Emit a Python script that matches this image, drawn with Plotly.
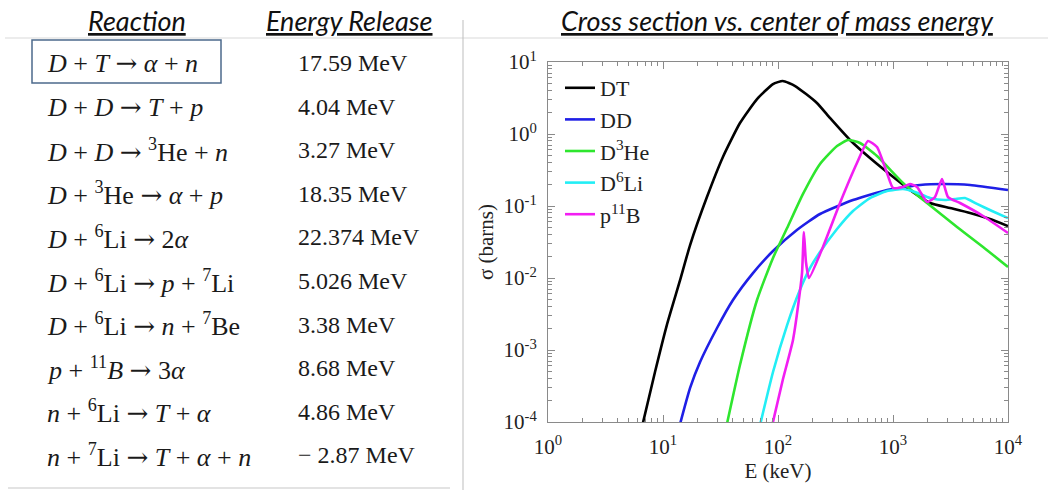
import plotly.graph_objects as go

# ------------------------------------------------------------------ data
ARROW = "<span style='font-family:DejaVu Serif'>→</span>"
reactions = [
    "<i>D</i> + <i>T</i> {a} <i>α</i> + <i>n</i>",
    "<i>D</i> + <i>D</i> {a} <i>T</i> + <i>p</i>",
    "<i>D</i> + <i>D</i> {a} <sup>3</sup>He + <i>n</i>",
    "<i>D</i> + <sup>3</sup>He {a} <i>α</i> + <i>p</i>",
    "<i>D</i> + <sup>6</sup>Li {a} 2<i>α</i>",
    "<i>D</i> + <sup>6</sup>Li {a} <i>p</i> + <sup>7</sup>Li",
    "<i>D</i> + <sup>6</sup>Li {a} <i>n</i> + <sup>7</sup>Be",
    "<i>p</i> + <sup>11</sup><i>B</i> {a} 3<i>α</i>",
    "<i>n</i> + <sup>6</sup>Li {a} <i>T</i> + <i>α</i>",
    "<i>n</i> + <sup>7</sup>Li {a} <i>T</i> + <i>α</i> + <i>n</i>",
]
energy_release = [
    "17.59 MeV", "4.04 MeV", "3.27 MeV", "18.35 MeV", "22.374 MeV",
    "5.026 MeV", "3.38 MeV", "8.68 MeV", "4.86 MeV", "− 2.87 MeV",
]

# cross sections, E in keV, sigma in barns
dt_E = [6.5, 8.52, 10.8, 14.1, 17.2, 24.1, 33.2, 46.7, 65.7, 90.5, 110, 141, 218, 283,
        423, 631, 1084, 1493, 2099, 3133, 4677, 6970, 10000]
dt_sigma = [8.0e-5, 4.95e-4, 2.22e-3, 9.4e-3, 0.0287, 0.133, 0.48, 1.42, 3.06, 4.94, 5.45,
            4.64, 2.70, 1.67, 0.826, 0.464, 0.230, 0.156, 0.110, 0.0938, 0.080, 0.0659, 0.0527]

dd_E = [13.7, 17.2, 21.0, 29.5, 40.6, 60.6, 90.5, 146, 232, 449, 887, 1718, 2723, 4677, 10000]
dd_sigma = [8.0e-5, 2.97e-4, 6.8e-4, 2.02e-3, 4.95e-3, 0.0117, 0.0237, 0.0464, 0.0774,
            0.121, 0.167, 0.196, 0.202, 0.196, 0.167]

dhe3_E = [35.2, 46.7, 65.7, 90.5, 120, 165, 232, 326, 406, 517, 726, 1222, 1976, 3604,
          6067, 10000]
dhe3_sigma = [8.0e-5, 6.19e-4, 4.95e-3, 0.019, 0.0494, 0.147, 0.383, 0.681, 0.826, 0.750,
              0.495, 0.209, 0.110, 0.0511, 0.0270, 0.0142]

dli6_E = [68.5, 90.5, 120, 155, 190, 232, 326, 449, 631, 887, 1222, 1553, 2099, 2833,
          3459, 4227, 5375, 7261, 10000]
dli6_sigma = [8.0e-5, 4.95e-4, 2.22e-3, 6.8e-3, 0.0138, 0.023, 0.048, 0.0853, 0.129,
              0.161, 0.172, 0.156, 0.129, 0.121, 0.125, 0.129, 0.107, 0.0853, 0.068]

pb11_E = [87.5, 110, 135, 155, 162, 168, 175, 186, 246, 346, 486, 606, 726, 887, 1000,
          1222, 1406, 1618, 1976, 2317, 2667, 3008, 3828, 6067, 10000]
pb11_sigma = [8.0e-5, 3.83e-4, 1.38e-3, 6.4e-3, 0.0121, 0.0436, 0.0167, 0.010, 0.027,
              0.110, 0.395, 0.80, 0.659, 0.287, 0.178, 0.184, 0.202, 0.184, 0.114, 0.133,
              0.237, 0.133, 0.110, 0.0726, 0.0422]

x_tick_vals = [1, 10, 100, 1000, 10000]
x_tick_text = ["10<sup>0</sup>", "10<sup>1</sup>", "10<sup>2</sup>", "10<sup>3</sup>", "10<sup>4</sup>"]
y_tick_vals = [1e-4, 1e-3, 1e-2, 1e-1, 1, 10]
y_tick_text = ["10<sup>-4</sup>", "10<sup>-3</sup>", "10<sup>-2</sup>", "10<sup>-1</sup>",
               "10<sup>0</sup>", "10<sup>1</sup>"]

# minor tick positions (2..9 within each decade)
x_minor_vals = [m * 10.0 ** k for k in range(0, 4) for m in range(2, 10)]
y_minor_vals = [m * 10.0 ** k for k in range(-4, 1) for m in range(2, 10)]

# ------------------------------------------------------------------ layout helpers
W, H = 1048, 490


def px(x):
    return x / W


def py(y):
    return 1 - y / H


SERIF = "Liberation Serif, Times New Roman, serif"
SANS = "Lato, Open Sans, sans-serif"
AXIS_GREY = "#8a8a8a"

fig = go.Figure()

series = [
    ("DT", dt_E, dt_sigma, "#000000"),
    ("DD", dd_E, dd_sigma, "#1f1fe6"),
    ("D<sup>3</sup>He", dhe3_E, dhe3_sigma, "#2ee62e"),
    ("D<sup>6</sup>Li", dli6_E, dli6_sigma, "#22eef5"),
    ("p<sup>11</sup>B", pb11_E, pb11_sigma, "#f21ef2"),
]
for name, e, s, c in series:
    fig.add_trace(go.Scatter(
        x=e, y=s, mode="lines", name=name,
        line=dict(color=c, width=2.6, shape="spline", smoothing=0.5),
    ))

axis_common = dict(
    type="log", automargin=False,
    showline=True, linecolor=AXIS_GREY, linewidth=1, mirror="ticks",
    ticks="inside", ticklen=7, tickcolor=AXIS_GREY,
    showgrid=False, zeroline=False,
    tickfont=dict(family=SERIF, size=21, color="#222"),
    ticklabelstandoff=6,
)

fig.update_layout(
    width=W, height=H,
    margin=dict(l=0, r=0, t=0, b=0, autoexpand=False),
    paper_bgcolor="white", plot_bgcolor="white",
    xaxis=dict(
        **axis_common,
        domain=[px(548), px(1008)],
        range=[0, 4],
        tickvals=x_tick_vals, ticktext=x_tick_text,
        minor=dict(tickmode="array", tickvals=x_minor_vals, ticks="inside", ticklen=4,
                   tickcolor=AXIS_GREY, showgrid=False),
        title=dict(text="E (keV)", font=dict(family=SERIF, size=21, color="#222"), standoff=4),
    ),
    yaxis=dict(
        **axis_common,
        domain=[py(422), py(62)],
        range=[-4, 1],
        tickvals=y_tick_vals, ticktext=y_tick_text,
        minor=dict(tickmode="array", tickvals=y_minor_vals, ticks="inside", ticklen=4,
                   tickcolor=AXIS_GREY, showgrid=False),
        title=dict(text="σ (barns)", font=dict(family=SERIF, size=21, color="#222"), standoff=4),
    ),
    legend=dict(
        x=px(560), y=py(67), xanchor="left", yanchor="top",
        bgcolor="rgba(0,0,0,0)",
        font=dict(family=SERIF, size=22, color="#222"),
        tracegroupgap=0, itemwidth=30,
    ),
    showlegend=True,
)

annotations = []
# headers
for text, xc in [("Reaction", 137), ("Energy Release", 349),
                 ("Cross section vs. center of mass energy", 777)]:
    annotations.append(dict(
        text=f"<u><i>{text}</i></u>", x=px(xc), y=py(20), xref="paper", yref="paper",
        xanchor="center", yanchor="middle", showarrow=False,
        font=dict(family=SANS, size=27, color="#111"),
    ))

# table rows
for i, (r, e) in enumerate(zip(reactions, energy_release)):
    yrow = 63 + i * 43.6
    annotations.append(dict(
        text=r.format(a=ARROW), x=px(45), y=py(yrow), xref="paper", yref="paper",
        xanchor="left", yanchor="middle", showarrow=False,
        font=dict(family=SERIF, size=26, color="#1a1a1a"),
    ))
    annotations.append(dict(
        text=e, x=px(296), y=py(yrow), xref="paper", yref="paper",
        xanchor="left", yanchor="middle", showarrow=False,
        font=dict(family=SERIF, size=24, color="#1a1a1a"),
    ))
fig.update_layout(annotations=annotations)

shapes = [
    # header separator
    dict(type="line", xref="paper", yref="paper", x0=px(5), x1=px(1048), y0=py(38), y1=py(38),
         line=dict(color="#d9d9d9", width=1)),
    # vertical separator
    dict(type="line", xref="paper", yref="paper", x0=px(463), x1=px(463), y0=py(20), y1=py(490),
         line=dict(color="#bdbdbd", width=1)),
    # bottom line of table
    dict(type="line", xref="paper", yref="paper", x0=px(8), x1=px(450), y0=py(488), y1=py(488),
         line=dict(color="#e3e3e3", width=2)),
    # highlight box
    dict(type="rect", xref="paper", yref="paper", x0=px(32), x1=px(221), y0=py(83), y1=py(40),
         line=dict(color="#4c6a8c", width=1.5)),
]
fig.update_layout(shapes=shapes)

fig.write_html(
    "out.html",
    config={"displayModeBar": False},
    post_script="document.body.style.margin='0';document.body.style.overflow='hidden';",
)
